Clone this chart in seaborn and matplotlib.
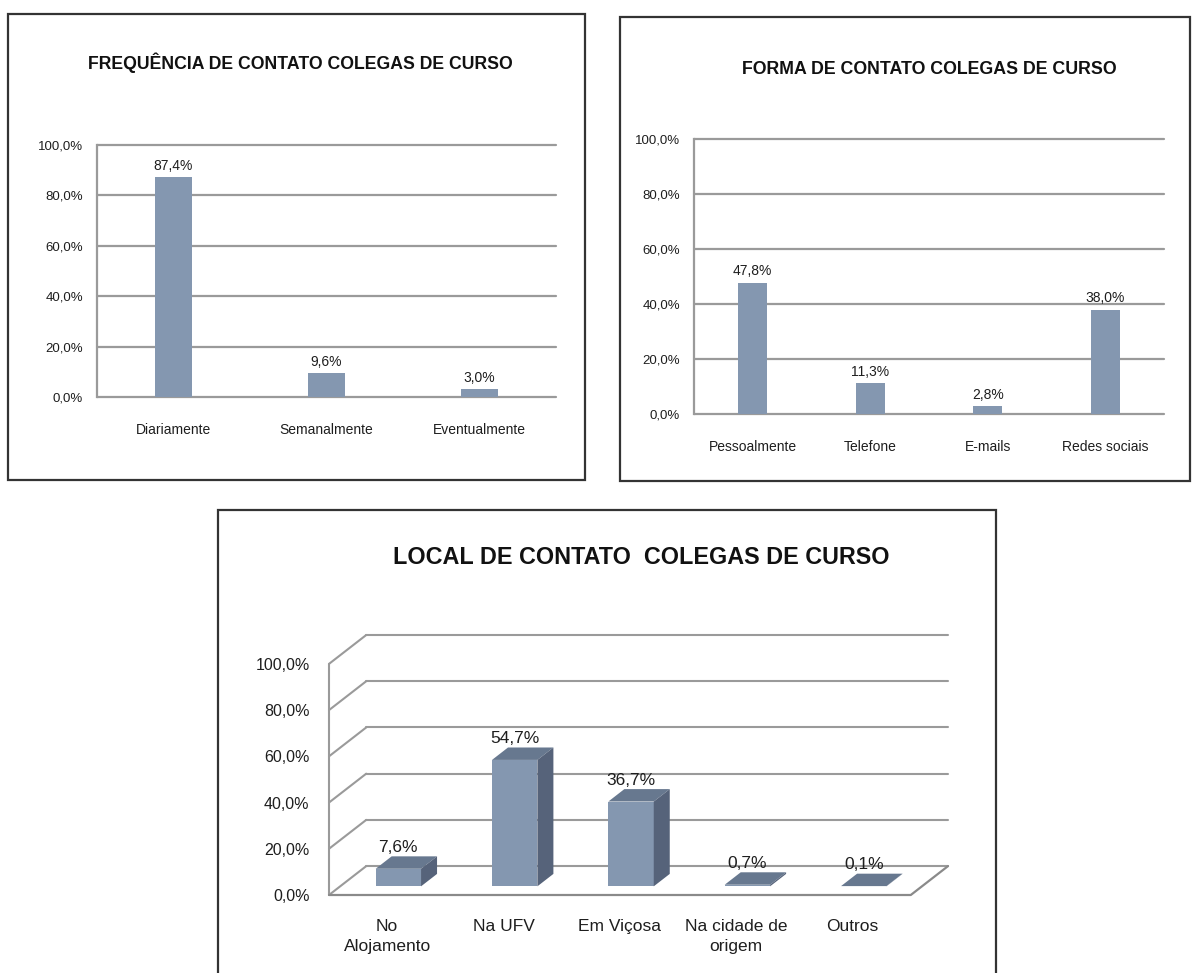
import matplotlib.pyplot as plt
import seaborn as sns
import pandas as pd
from matplotlib.patches import Rectangle, Polygon

sns.set_theme(style='white')
plt.rcParams['font.family'] = ['Liberation Sans Narrow', 'Liberation Sans', 'DejaVu Sans']

# data
freq_cats = ['Diariamente', 'Semanalmente', 'Eventualmente']
freq_vals = [87.4, 9.6, 3.0]
forma_cats = ['Pessoalmente', 'Telefone', 'E-mails', 'Redes sociais']
forma_vals = [47.8, 11.3, 2.8, 38.0]
local_cats = ['No\nAlojamento', 'Na UFV', 'Em Viçosa', 'Na cidade de\norigem', 'Outros']
local_vals = [7.6, 54.7, 36.7, 0.7, 0.1]
y_ticks = [0, 20, 40, 60, 80, 100]

BAR = '#8497B0'
TOP = '#67788F'
SIDE = '#56637A'
GRID = '#9A9A9A'
TXT = '#1E1E1E'

W, H = 1193, 973
fig = plt.figure(figsize=(W / 100, H / 100), dpi=100)


def frac(x0, y0, x1, y1):
    return [x0 / W, 1 - y1 / H, (x1 - x0) / W, (y1 - y0) / H]


def pct(v):
    return '{0:.1f}%'.format(v).replace('.', ',')


def flat_panel(ax, cats, vals, width):
    df = pd.DataFrame({'cat': cats, 'val': vals})
    sns.barplot(data=df, x='cat', y='val', color=BAR, saturation=1,
                width=width, ax=ax, zorder=3, edgecolor='none', linewidth=0)
    ax.set_xlim(-0.5, len(cats) - 0.5)
    ax.set_ylim(0, 100)
    for t in y_ticks:
        ax.axhline(t, color=GRID, lw=1.6, clip_on=False, zorder=1)
    for s in ax.spines.values():
        s.set_visible(False)
    ax.spines['left'].set_visible(True)
    ax.spines['left'].set_color(GRID)
    ax.spines['left'].set_linewidth(1.6)
    ax.set_yticks(y_ticks)
    ax.set_yticklabels([pct(t) for t in y_ticks])
    ax.tick_params(axis='y', length=0, pad=10, labelsize=9.5, labelcolor=TXT)
    ax.tick_params(axis='x', length=0, pad=19, labelsize=10, labelcolor=TXT)
    ax.set_xlabel('')
    ax.set_ylabel('')
    ax.bar_label(ax.containers[0], labels=[pct(v) for v in vals],
                 padding=3, fontsize=10, color=TXT)


# panel boxes
for x0, y0, x1, y1 in [(8, 14, 585, 480), (620, 17, 1190, 481), (218, 510, 996, 990)]:
    fig.patches.append(Rectangle((x0 / W, 1 - y1 / H), (x1 - x0) / W, (y1 - y0) / H,
                                 transform=fig.transFigure, fill=False,
                                 ec='#333333', lw=1.6))

ax1 = fig.add_axes(frac(97, 145, 556, 397))
flat_panel(ax1, freq_cats, freq_vals, 0.24)
fig.text(300 / W, 1 - 63 / H, 'FREQUÊNCIA DE CONTATO COLEGAS DE CURSO',
         ha='center', va='center', fontsize=12.7, fontweight='bold', color='#111111')

ax2 = fig.add_axes(frac(694, 139, 1164, 414))
flat_panel(ax2, forma_cats, forma_vals, 0.25)
fig.text(929 / W, 1 - 70 / H, 'FORMA DE CONTATO COLEGAS DE CURSO',
         ha='center', va='center', fontsize=12.8, fontweight='bold', color='#111111')

# 3D-looking panel
DX, DY = 0.32, 12.5       # depth offset of back wall (x units, % units)
D0, D1 = 0.30, 0.73       # bar depth range
ax3 = fig.add_axes(frac(329, 635, 948, 895))
df3 = pd.DataFrame({'cat': local_cats, 'val': local_vals})
sns.barplot(data=df3, x='cat', y='val', color=BAR, saturation=1,
            width=0.39, ax=ax3, zorder=5, edgecolor='none', linewidth=0)
n = len(local_cats)
ax3.set_xlim(-0.5, n - 0.5 + DX)
ax3.set_ylim(0, 100 + DY)
for s in ax3.spines.values():
    s.set_visible(False)

# walls and floor
for t in y_ticks:
    ax3.plot([-0.5 + DX, n - 0.5 + DX], [t + DY, t + DY], color=GRID, lw=1.5,
             clip_on=False, zorder=1)
    ax3.plot([-0.5, -0.5 + DX], [t, t + DY], color=GRID, lw=1.5, clip_on=False, zorder=1)
ax3.plot([-0.5, -0.5], [0, 100], color=GRID, lw=1.5, clip_on=False, zorder=2)
ax3.plot([-0.5, n - 0.5, n - 0.5 + DX], [0, 0, DY], color='#8A8A8A', lw=1.6,
         clip_on=False, zorder=2)

for p, v in zip(ax3.patches, local_vals):
    x0 = p.get_x() + D0 * DX
    w = p.get_width()
    y0 = D0 * DY
    p.set_x(x0)
    p.set_y(y0)
    x1 = x0 + w
    y1 = y0 + p.get_height()
    ex, ey = (D1 - D0) * DX, (D1 - D0) * DY
    ax3.add_patch(Polygon([(x0, y1), (x1, y1), (x1 + ex, y1 + ey), (x0 + ex, y1 + ey)],
                          closed=True, fc=TOP, ec='none', zorder=5))
    ax3.add_patch(Polygon([(x1, y0), (x1 + ex, y0 + ey), (x1 + ex, y1 + ey), (x1, y1)],
                          closed=True, fc=SIDE, ec='none', zorder=5))
    ax3.annotate(pct(v), (x0 + w / 2, y1 + ey), xytext=(0, 1), textcoords='offset points',
                 ha='center', va='bottom', fontsize=12.5, color=TXT, zorder=6)

ax3.set_yticks(y_ticks)
ax3.set_yticklabels([pct(t) for t in y_ticks])
ax3.set_xticks(range(n))
ax3.set_xticklabels(local_cats)
ax3.tick_params(axis='y', length=0, pad=14, labelsize=11.5, labelcolor=TXT)
ax3.tick_params(axis='x', length=0, pad=17, labelsize=12.5, labelcolor=TXT)
for lab in ax3.get_xticklabels():
    lab.set_linespacing(1.45)
ax3.set_xlabel('')
ax3.set_ylabel('')
fig.text(641 / W, 1 - 557 / H, 'LOCAL DE CONTATO  COLEGAS DE CURSO',
         ha='center', va='center', fontsize=16.8, fontweight='bold', color='#111111')

fig.savefig('out.png', dpi=100, facecolor='white')
